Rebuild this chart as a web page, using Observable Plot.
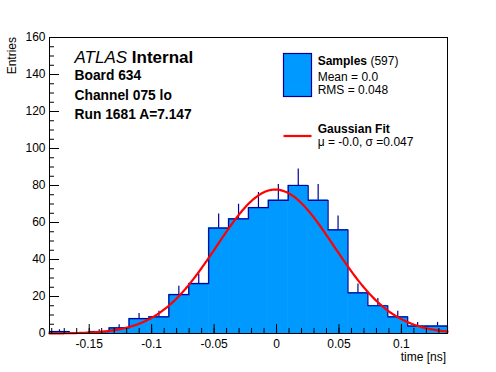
<!DOCTYPE html>
<html><head><meta charset="utf-8">
<script src="https://cdn.jsdelivr.net/npm/d3@7"></script>
<script src="https://cdn.jsdelivr.net/npm/@observablehq/plot@0.6"></script>
<style>body{margin:0;background:#fff} svg{display:block}</style>
</head><body><div id="chart"></div>
<script>
// ---- data ----
const xMin = -0.1818, xMax = 0.1369;           // histogram range (20 bins)
const counts = [1,0,1,3,8,9,21,27,57,62,68,72,80,72,56,22,15,9,4,4];
const fitMu = -0.001, fitSigma = 0.047, fitAmp = 77.8;   // Gaussian fit
const xMajorTicks = [-0.15,-0.1,-0.05,0,0.05,0.1];
const yMajorTicks = [0,20,40,60,80,100,120,140,160];
const xLabel = "time [ns]", yLabel = "Entries";
const infoLines = ["Board 634","Channel 075 lo","Run 1681 A=7.147"];
const legendSamples = {name:"Samples", n:"(597)", mean:"Mean = 0.0", rms:"RMS = 0.048"};
const legendFit = {name:"Gaussian Fit", pars:"μ = -0.0, σ =0.047"};

// ---- derived tables ----
const W = 496, H = 372, mL = 49, mR = 49, mT = 37, mB = 39;
const fw = W - mL - mR, fh = H - mT - mB;
const nb = counts.length, bw = (xMax - xMin) / nb;
const bins = counts.map((c, i) => ({x1: xMin + i*bw, x2: xMin + (i+1)*bw, xc: xMin + (i+0.5)*bw, c}));
const step = [{x: xMin, y: 0}];
bins.forEach(b => { step.push({x: b.x1, y: b.c}); step.push({x: b.x2, y: b.c}); });
step.push({x: xMax, y: 0});
const gauss = d3.range(0, 401).map(i => { const x = xMin + (xMax - xMin) * i / 400;
  return {x, y: fitAmp * Math.exp(-((x - fitMu) ** 2) / (2 * fitSigma ** 2))}; });
const xMinor = d3.range(-18, 14).map(k => k / 100);
const yMinor = d3.range(0, 161, 5);
const fmt = d => String(+d.toFixed(3)).replace("−", "-");

const FONT = "Liberation Sans, Arial, Helvetica, sans-serif";
const BLUE = "#0099ff", DARK = "#000099";

const svg = Plot.plot({
  width: W, height: H, marginLeft: mL, marginRight: mR, marginTop: mT, marginBottom: mB,
  style: {fontFamily: FONT, fontSize: "12px", color: "black", background: "white"},
  x: {domain: [xMin, xMax]},
  y: {domain: [0, 160]},
  marks: [
    Plot.rectY(bins, {x1: "x1", x2: "x2", y: "c", fill: BLUE, stroke: BLUE, strokeWidth: 0.6}),
    Plot.line(step, {x: "x", y: "y", stroke: DARK, strokeWidth: 1.2}),
    Plot.ruleX(bins.filter(b => b.c > 0), {x: "xc", y1: "c", y2: b => b.c + Math.sqrt(b.c), stroke: DARK, strokeWidth: 1.2}),
    Plot.line(gauss, {x: "x", y: "y", stroke: "#ff0000", strokeWidth: 2.2}),
    Plot.frame({stroke: "black"}),
    Plot.tickX(xMajorTicks, {x: d => d, insetTop: fh - 9, stroke: "black"}),
    Plot.tickX(xMinor, {x: d => d, insetTop: fh - 5, stroke: "black"}),
    Plot.tickY(yMajorTicks, {y: d => d, insetRight: fw - 10, stroke: "black"}),
    Plot.tickY(yMinor, {y: d => d, insetRight: fw - 5, stroke: "black"}),
    Plot.axisX({ticks: xMajorTicks, tickSize: 0, tickPadding: 5.5, tickFormat: fmt, label: null, fontSize: 12}),
    Plot.axisY({ticks: yMajorTicks, tickSize: 0, tickPadding: 4, tickFormat: fmt, label: null, fontSize: 12})
  ]
});
document.getElementById("chart").appendChild(svg);

// ---- annotations ----
const s = d3.select(svg);
const g = s.append("g").attr("font-family", FONT).attr("fill", "black").attr("text-anchor", "start");
g.append("text").attr("x", 446).attr("y", 360.5).attr("text-anchor", "end").attr("font-size", 12).text(xLabel);
g.append("text").attr("transform", "translate(16,37) rotate(-90)").attr("text-anchor", "end").attr("font-size", 12).text(yLabel);

const t = g.append("text").attr("x", 74.5).attr("y", 62.7).attr("font-size", 17);
t.append("tspan").attr("font-style", "italic").text("ATLAS");
t.append("tspan").attr("font-weight", "bold").text(" Internal");
const infoY = [80, 99.5, 119];
infoLines.forEach((l, i) => g.append("text").attr("x", 74.5).attr("y", infoY[i])
  .attr("font-size", 13.8).attr("font-weight", "bold").text(l));

g.append("rect").attr("x", 283.5).attr("y", 53.5).attr("width", 28).attr("height", 43)
  .attr("fill", BLUE).attr("stroke", DARK).attr("stroke-width", 1.2);
const ts = g.append("text").attr("x", 317.7).attr("y", 65).attr("font-size", 12);
ts.append("tspan").attr("font-weight", "bold").text(legendSamples.name);
ts.append("tspan").text(" " + legendSamples.n);
g.append("text").attr("x", 317.7).attr("y", 80.5).attr("font-size", 12).text(legendSamples.mean);
g.append("text").attr("x", 317.7).attr("y", 94).attr("font-size", 12).text(legendSamples.rms);
g.append("line").attr("x1", 283.5).attr("x2", 311.5).attr("y1", 136).attr("y2", 136)
  .attr("stroke", "#ff0000").attr("stroke-width", 2.2);
g.append("text").attr("x", 317.7).attr("y", 132.5).attr("font-size", 12).attr("font-weight", "bold").text(legendFit.name);
g.append("text").attr("x", 317.7).attr("y", 146).attr("font-size", 12).text(legendFit.pars);
</script></body></html>
